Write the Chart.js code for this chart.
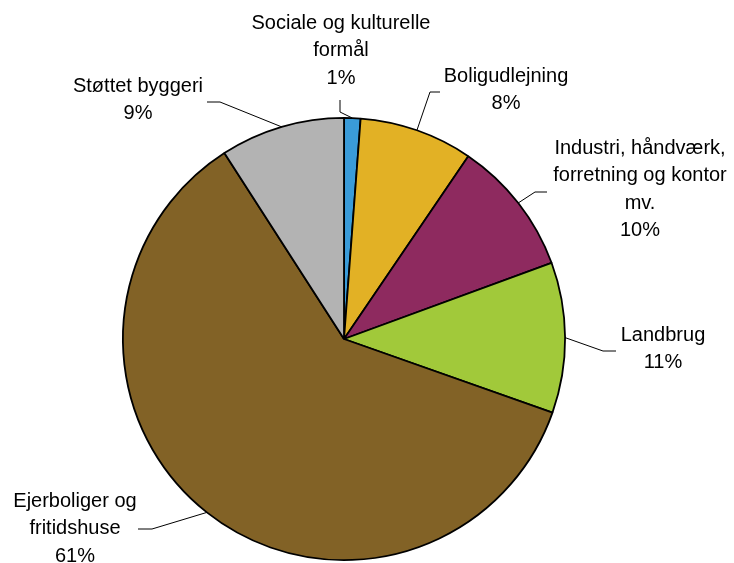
<!DOCTYPE html>
<html>
<head>
<meta charset="utf-8">
<script src="https://cdn.jsdelivr.net/npm/chart.js@4"></script>
<style>
  body { margin: 0; background: #fff; }
  #wrap { width: 734px; height: 563px; position: relative; }
</style>
</head>
<body>
<div id="wrap"><canvas id="pie"></canvas></div>
<script>
// shares, clockwise from 12 o'clock
var categories = [
  'Sociale og kulturelle formål',
  'Boligudlejning',
  'Industri, håndværk, forretning og kontor mv.',
  'Landbrug',
  'Ejerboliger og fritidshuse',
  'Støttet byggeri'
];
var shares = [1.2, 8.3, 9.9, 11.0, 60.5, 9.1];
var sliceColors = ['#3a9bd8', '#e2b125', '#8e2a5f', '#a1c93a', '#826226', '#b3b3b3'];

// how each label is broken into lines
var labelLines = [
  ['Sociale og kulturelle', 'formål'],
  ['Boligudlejning'],
  ['Industri, håndværk,', 'forretning og kontor', 'mv.'],
  ['Landbrug'],
  ['Ejerboliger og', 'fritidshuse'],
  ['Støttet byggeri']
];

// label placement: text centre, leader elbow and leader end
var labelPlace = [
  { tx: 341, ty: 23,  elbow: [340, 112], end: [340, 100] },
  { tx: 506, ty: 76,  elbow: [430, 92],  end: [440, 92] },
  { tx: 640, ty: 148, elbow: [535, 192], end: [547, 192] },
  { tx: 663, ty: 335, elbow: [603, 351], end: [616, 351] },
  { tx: 75,  ty: 501, elbow: [152, 529], end: [138, 529] },
  { tx: 138, ty: 86,  elbow: [220, 102], end: [207, 102] }
];

var outsideLabels = {
  id: 'outsideLabels',
  afterDatasetsDraw: function(chart) {
    var ctx = chart.ctx;
    var meta = chart.getDatasetMeta(0);
    var total = shares.reduce(function(a, b) { return a + b; }, 0);
    ctx.save();
    meta.data.forEach(function(arc, i) {
      var p = arc.getProps(['x', 'y', 'startAngle', 'endAngle', 'outerRadius'], true);
      var mid = (p.startAngle + p.endAngle) / 2;
      var ex = p.x + Math.cos(mid) * p.outerRadius;
      var ey = p.y + Math.sin(mid) * p.outerRadius;
      var pl = labelPlace[i];

      ctx.strokeStyle = '#000';
      ctx.lineWidth = 1;
      ctx.beginPath();
      ctx.moveTo(ex, ey);
      ctx.lineTo(pl.elbow[0], pl.elbow[1]);
      ctx.lineTo(pl.end[0], pl.end[1]);
      ctx.stroke();

      var lines = labelLines[i].concat([Math.round(shares[i] / total * 100) + '%']);
      ctx.fillStyle = '#000';
      ctx.font = '20px "Liberation Sans", Arial, sans-serif';
      ctx.textAlign = 'center';
      ctx.textBaseline = 'middle';
      lines.forEach(function(t, k) {
        ctx.fillText(t, pl.tx, pl.ty + k * 27.5);
      });
    });
    ctx.restore();
  }
};

new Chart(document.getElementById('pie'), {
  type: 'pie',
  data: {
    labels: categories,
    datasets: [{
      data: shares,
      backgroundColor: sliceColors,
      borderColor: '#000',
      borderWidth: 1.8
    }]
  },
  options: {
    responsive: true,
    maintainAspectRatio: false,
    animation: false,
    layout: { padding: { top: 117, bottom: 2, left: 100, right: 146 } },
    plugins: {
      legend: { display: false },
      tooltip: { enabled: false }
    }
  },
  plugins: [outsideLabels]
});
</script>
</body>
</html>
